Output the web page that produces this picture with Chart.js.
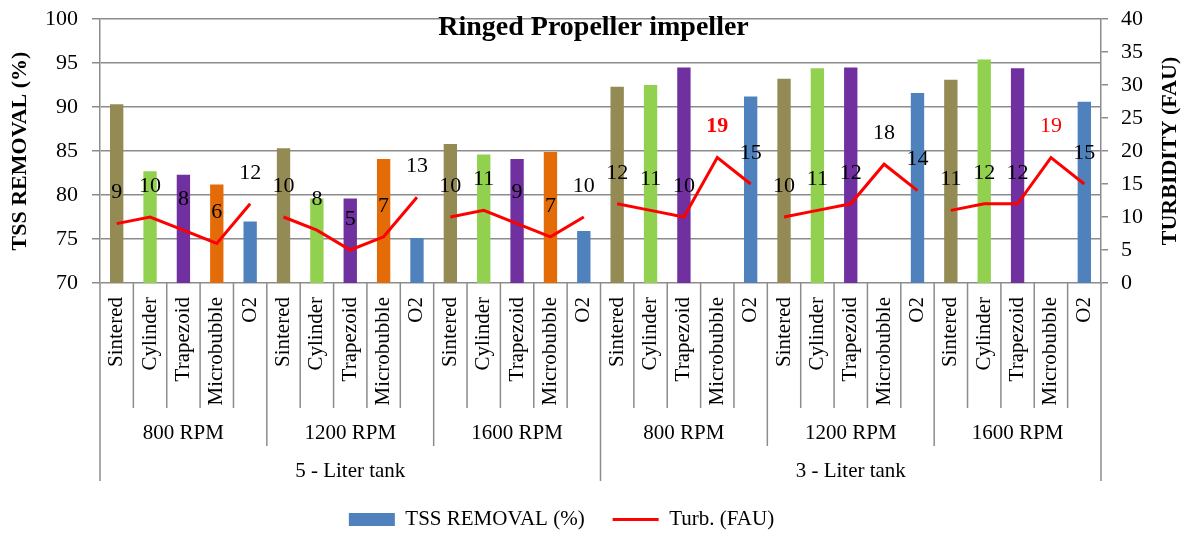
<!DOCTYPE html>
<html><head><meta charset="utf-8">
<script src="https://cdn.jsdelivr.net/npm/chart.js@4/dist/chart.umd.min.js"></script>
<style>html,body{margin:0;padding:0;background:#fff;}#wrap{width:1189px;height:533px;}</style>
</head><body><div id="wrap"><canvas id="c" width="1189" height="533"></canvas></div>
<script>
// ---- data ----
const categories = [
  'Sintered','Cylinder','Trapezoid','Microbubble','O2',
  'Sintered','Cylinder','Trapezoid','Microbubble','O2',
  'Sintered','Cylinder','Trapezoid','Microbubble','O2',
  'Sintered','Cylinder','Trapezoid','Microbubble','O2',
  'Sintered','Cylinder','Trapezoid','Microbubble','O2',
  'Sintered','Cylinder','Trapezoid','Microbubble','O2'
];
const rpmGroups = ['800 RPM','1200 RPM','1600 RPM','800 RPM','1200 RPM','1600 RPM'];
const tankGroups = ['5 - Liter tank','3 - Liter tank'];
const tssRemoval = [
  90.3, 82.7, 82.3, 81.2, 77.0,
  85.3, 79.6, 79.6, 84.1, 75.1,
  85.8, 84.6, 84.1, 84.9, 75.9,
  92.3, 92.5, 94.5, null, 91.2,
  93.2, 94.4, 94.5, null, 91.6,
  93.1, 95.4, 94.4, null, 90.6
];
const turbidity = [
  9, 10, 8, 6, 12,
  10, 8, 5, 7, 13,
  10, 11, 9, 7, 10,
  12, 11, 10, 19, 15,
  10, 11, 12, 18, 14,
  11, 12, 12, 19, 15
];
const labelRed  = [18, 28];   // indices of turbidity labels shown in red
const labelBold = [18];       // indices of bold turbidity labels
const shapeColors = ['#948A54','#92D050','#7030A0','#E36C09','#4F81BD'];
const leftAxisRange = [70, 100];
const rightAxisRange = [0, 40];
const tickStep = 5;

const SERIF = '"Liberation Serif", "Times New Roman", serif';
const GRID = '#8c8c8c';

const groupPlugin = {
  id: 'groups',
  afterLayout(chart) {
    if (chart.legend) chart.legend.right -= 66;
  },
  afterDraw(chart) {
    const {ctx, chartArea, scales: {x}} = chart;
    const bottom = chartArea.bottom;
    const half = (x.getPixelForValue(1) - x.getPixelForValue(0)) / 2;
    ctx.save();
    ctx.strokeStyle = GRID;
    ctx.lineWidth = 1.5;
    for (let i = 0; i <= categories.length; i++) {
      const px = i < categories.length ? x.getPixelForValue(i) - half : x.getPixelForValue(i - 1) + half;
      let len = 125;
      if (i % 5 === 0) len = 163;
      if (i % 15 === 0) len = 198;
      ctx.beginPath();
      ctx.moveTo(px, bottom);
      ctx.lineTo(px, bottom + len);
      ctx.stroke();
    }
    ctx.fillStyle = '#000';
    ctx.font = '21px ' + SERIF;
    ctx.textAlign = 'center';
    ctx.textBaseline = 'middle';
    rpmGroups.forEach((g, k) => {
      const cx = (x.getPixelForValue(k * 5) + x.getPixelForValue(k * 5 + 4)) / 2;
      ctx.fillText(g, cx, bottom + 150);
    });
    tankGroups.forEach((g, k) => {
      const cx = (x.getPixelForValue(k * 15) + x.getPixelForValue(k * 15 + 14)) / 2;
      ctx.fillText(g, cx, bottom + 188);
    });
    // chart title inside plot area
    ctx.font = 'bold 28px ' + SERIF;
    ctx.textBaseline = 'alphabetic';
    ctx.fillText('Ringed Propeller impeller', (chartArea.left + chartArea.right) / 2 - 7, chartArea.top + 16);
    // right axis title (reads bottom to top)
    ctx.save();
    ctx.translate(1170, (chartArea.top + chartArea.bottom) / 2);
    ctx.rotate(-Math.PI / 2);
    ctx.font = 'bold 22px ' + SERIF;
    ctx.textBaseline = 'middle';
    ctx.fillText('TURBIDITY (FAU)', 0, 0);
    ctx.restore();
    ctx.restore();
  },
  afterDatasetsDraw(chart) {
    const {ctx} = chart;
    const meta = chart.getDatasetMeta(1);
    ctx.save();
    ctx.textAlign = 'center';
    ctx.textBaseline = 'middle';
    meta.data.forEach((pt, i) => {
      ctx.font = (labelBold.includes(i) ? 'bold ' : '') + '22px ' + SERIF;
      ctx.fillStyle = labelRed.includes(i) ? '#FF0000' : '#000';
      ctx.fillText(String(turbidity[i]), pt.x, pt.y - 31);
    });
    ctx.restore();
  }
};

new Chart(document.getElementById('c'), {
  type: 'bar',
  data: {
    labels: categories,
    datasets: [
      {
        type: 'bar',
        label: 'TSS REMOVAL (%)',
        data: tssRemoval,
        backgroundColor: categories.map((_, i) => shapeColors[i % 5]),
        barPercentage: 0.4,
        categoryPercentage: 1.0,
        yAxisID: 'y',
        order: 2
      },
      {
        type: 'line',
        label: 'Turb. (FAU)',
        data: turbidity,
        borderColor: '#FF0000',
        borderWidth: 3,
        pointRadius: 0,
        tension: 0,
        yAxisID: 'y1',
        order: 1,
        segment: {
          borderColor: c => (c.p0DataIndex % 5 === 4) ? 'rgba(0,0,0,0)' : '#FF0000'
        }
      }
    ]
  },
  options: {
    responsive: false,
    animation: false,
    devicePixelRatio: 1,
    layout: {padding: {top: 19, bottom: -7, left: 0, right: 0}},
    plugins: {
      tooltip: {enabled: false},
      title: {display: false},
      legend: {
        position: 'bottom',
        labels: {
          usePointStyle: true,
          pointStyleWidth: 46,
          boxHeight: 13,
          padding: 28,
          color: '#000',
          font: {family: SERIF, size: 21},
          generateLabels: () => [
            {text: 'TSS REMOVAL (%)', fillStyle: '#4F81BD', strokeStyle: '#4F81BD', lineWidth: 0, pointStyle: 'rect', hidden: false, datasetIndex: 0, fontColor: '#000'},
            {text: 'Turb. (FAU)', fillStyle: '#FF0000', strokeStyle: '#FF0000', lineWidth: 3, pointStyle: 'line', hidden: false, datasetIndex: 1, fontColor: '#000'}
          ]
        }
      }
    },
    scales: {
      x: {
        type: 'category',
        offset: true,
        grid: {display: false, drawTicks: false, tickLength: 0},
        border: {display: false},
        ticks: {autoSkip: false, minRotation: 90, maxRotation: 90, padding: 14, color: '#000', font: {family: SERIF, size: 21}},
        afterFit(s) { s.height = 198; }
      },
      y: {
        position: 'left',
        min: leftAxisRange[0], max: leftAxisRange[1],
        ticks: {stepSize: tickStep, padding: 14, color: '#000', font: {family: SERIF, size: 22}},
        grid: {color: GRID, lineWidth: 1.5, tickLength: 8},
        border: {display: true, color: GRID, width: 1.5},
        title: {display: true, text: 'TSS REMOVAL (%)', color: '#000', font: {family: SERIF, size: 22, weight: 'bold'}, padding: {top: 7, bottom: 0}},
        afterFit(s) { s.width = 100; s.paddingTop = 0; s.paddingBottom = 0; }
      },
      y1: {
        position: 'right',
        min: rightAxisRange[0], max: rightAxisRange[1],
        ticks: {stepSize: tickStep, padding: 13, color: '#000', font: {family: SERIF, size: 22}},
        grid: {drawOnChartArea: false, color: GRID, lineWidth: 1.5, tickLength: 7},
        border: {display: true, color: GRID, width: 1.5},
        afterFit(s) { s.width = 88; s.paddingTop = 0; s.paddingBottom = 0; }
      }
    }
  },
  plugins: [groupPlugin]
});
</script>
</body></html>
